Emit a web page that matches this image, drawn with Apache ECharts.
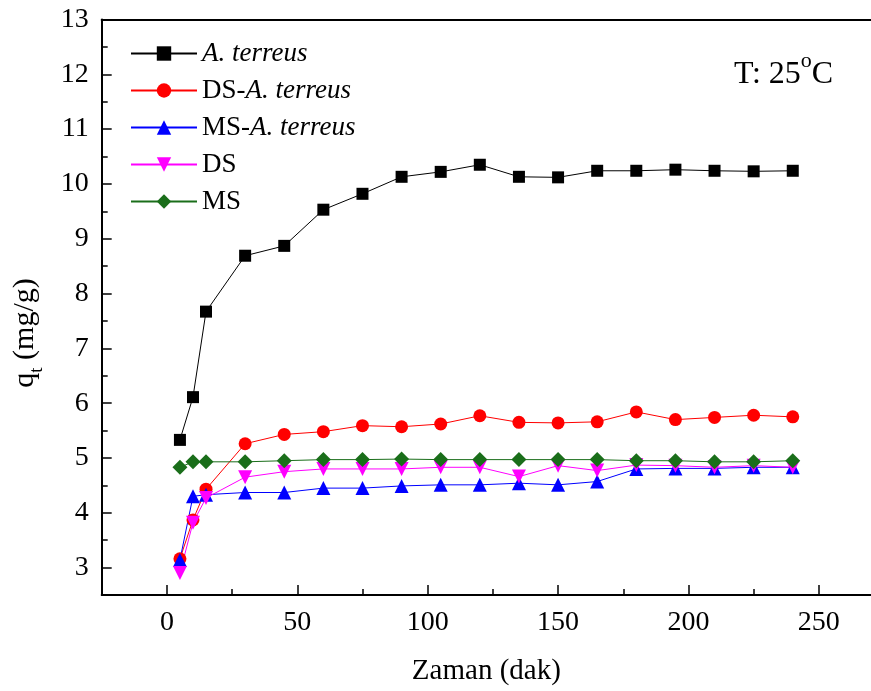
<!DOCTYPE html>
<html>
<head>
<meta charset="utf-8">
<script src="https://cdn.jsdelivr.net/npm/echarts@6/dist/echarts.min.js"></script>
<style>
html,body{margin:0;padding:0;background:#fff;}
#chart{width:871px;height:691px;}
</style>
</head>
<body>
<div id="chart"></div>
<script>
const times = [5,10,15,30,45,60,75,90,105,120,135,150,165,180,195,210,225,240];
const aTerreus   = [5.33,6.11,7.67,8.69,8.87,9.53,9.82,10.13,10.22,10.35,10.13,10.12,10.24,10.24,10.26,10.24,10.23,10.24];
const dsATerreus = [3.16,3.87,4.43,5.26,5.43,5.48,5.59,5.57,5.62,5.77,5.65,5.64,5.66,5.84,5.70,5.74,5.78,5.75];
const msATerreus = [3.14,4.30,4.33,4.37,4.37,4.45,4.45,4.49,4.51,4.51,4.54,4.51,4.57,4.80,4.81,4.81,4.83,4.83];
const dsOnly     = [2.90,3.82,4.27,4.65,4.75,4.80,4.80,4.80,4.83,4.83,4.66,4.86,4.77,4.87,4.86,4.83,4.86,4.83];
const msOnly     = [4.83,4.93,4.93,4.93,4.95,4.97,4.97,4.98,4.97,4.97,4.97,4.97,4.97,4.95,4.95,4.93,4.93,4.95];

const seriesNames = ['A. terreus','DS-A. terreus','MS-A. terreus','DS','MS'];
const xMajor = [0,50,100,150,200,250];
const xMinor = [25,75,125,175,225];
const yMajor = [3,4,5,6,7,8,9,10,11,12,13];
const yMinor = [3.5,4.5,5.5,6.5,7.5,8.5,9.5,10.5,11.5,12.5];

const FONT = 'Liberation Serif';
const chart = echarts.init(document.getElementById('chart'), null, {renderer:'canvas'});

function pairs(ys){ return times.map((t,i)=>[t, ys[i]]); }

const axisLineStyle = {color:'#000', width:2};

function mkSeries(name, data, color, symbol, size, rotate){
  return {
    name, type:'line', data: pairs(data),
    symbol, symbolSize: size, symbolRotate: rotate || 0,
    itemStyle:{color, opacity:1},
    lineStyle:{color, width:1},
    emphasis:{disabled:true},
    animation:false
  };
}

chart.setOption({
  backgroundColor:'#fff',
  animation:false,
  grid:{left:101.7, top:19.5, right:0, bottom:96, containLabel:false, outerBoundsMode:'none'},
  xAxis:[
    {type:'value', min:-25, max:270, position:'bottom',
     axisLine:{show:true, onZero:false, lineStyle:axisLineStyle},
     axisTick:{show:true, inside:true, length:10, lineStyle:{color:'#000', width:1.5}, customValues:xMajor},
     axisLabel:{show:true, customValues:xMajor, color:'#000', fontSize:28, fontFamily:FONT, margin:14},
     splitLine:{show:false},
     name:'Zaman (dak)', nameLocation:'middle', nameGap:62,
     nameTextStyle:{color:'#000', fontSize:29, fontFamily:FONT}
    },
    {type:'value', min:-25, max:270, position:'bottom',
     axisLine:{show:false, onZero:false},
     axisTick:{show:true, inside:true, length:6, lineStyle:{color:'#000', width:1.5}, customValues:xMinor},
     axisLabel:{show:false}, splitLine:{show:false}
    },
    {type:'value', min:-25, max:270, position:'top',
     axisLine:{show:true, onZero:false, lineStyle:axisLineStyle},
     axisTick:{show:false}, axisLabel:{show:false}, splitLine:{show:false}
    }
  ],
  yAxis:[
    {type:'value', min:2.5, max:13, position:'left',
     axisLine:{show:true, onZero:false, lineStyle:axisLineStyle},
     axisTick:{show:true, inside:true, length:10, lineStyle:{color:'#000', width:1.5}, customValues:yMajor},
     axisLabel:{show:true, customValues:yMajor, color:'#000', fontSize:28, fontFamily:FONT, margin:13},
     splitLine:{show:false}
    },
    {type:'value', min:2.5, max:13, position:'left',
     axisLine:{show:false, onZero:false},
     axisTick:{show:true, inside:true, length:6, lineStyle:{color:'#000', width:1.5}, customValues:yMinor},
     axisLabel:{show:false}, splitLine:{show:false}
    }
  ],
  legend:{
    orient:'vertical', left:130, top:40, padding:0,
    itemWidth:66, itemHeight:18, itemGap:10,
    data: seriesNames,
    formatter: function(name){
      const i = name.indexOf('A. terreus');
      if (i < 0) return '{n|' + name + '}';
      if (i === 0) return '{i|' + name + '}';
      return '{n|' + name.slice(0,i) + '}{i|' + name.slice(i) + '}';
    },
    textStyle:{
      color:'#000', fontSize:27, fontFamily:FONT,
      rich:{
        n:{fontSize:27, fontFamily:FONT, color:'#000'},
        i:{fontSize:27, fontFamily:FONT, color:'#000', fontStyle:'italic'}
      }
    },
    selectedMode:false
  },
  graphic:[
    {type:'text', left:734, top:50, silent:true,
     style:{
       text:'{a|T: 25}{b|o}{a|C}',
       rich:{
         a:{fontSize:32, fontFamily:FONT, fill:'#000', lineHeight:41, verticalAlign:'bottom'},
         b:{fontSize:22, fontFamily:FONT, fill:'#000', lineHeight:22, verticalAlign:'top'}
       }
     }},
    {type:'text', x:24, y:333, rotation:Math.PI/2, silent:true,
     style:{
       text:'{q|q}{t|t}{n| (mg/g)}', align:'center', verticalAlign:'middle',
       rich:{
         q:{fontSize:30, fontFamily:FONT, fill:'#000', lineHeight:32, verticalAlign:'bottom'},
         t:{fontSize:19, fontFamily:FONT, fill:'#000', lineHeight:32, verticalAlign:'bottom', padding:[0,0,-7,0]},
         n:{fontSize:30, fontFamily:FONT, fill:'#000', lineHeight:32, verticalAlign:'bottom'}
       }
     }}
  ],
  series:[
    mkSeries(seriesNames[0], aTerreus,   '#000000', 'rect', 12),
    mkSeries(seriesNames[1], dsATerreus, '#ff0000', 'circle', 13),
    mkSeries(seriesNames[2], msATerreus, '#0000ff', 'triangle', 14),
    mkSeries(seriesNames[3], dsOnly,     '#ff00ff', 'triangle', 14, 180),
    mkSeries(seriesNames[4], msOnly,     '#1a6e1a', 'diamond', 15)
  ]
});
</script>
</body>
</html>
